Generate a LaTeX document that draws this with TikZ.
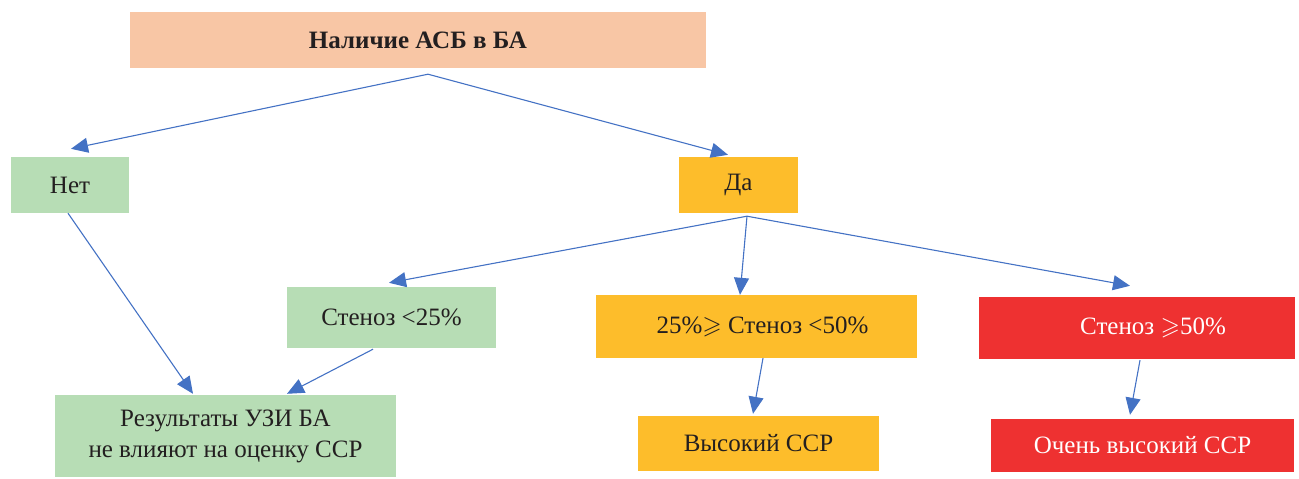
\documentclass[tikz,border=0pt]{standalone}
\usepackage{amssymb}
\usepackage{fontspec}
\setmainfont{Liberation Serif}
\usetikzlibrary{arrows.meta,calc}
\definecolor{cpeach}{HTML}{F8C6A5}
\definecolor{cgreen}{HTML}{B7DDB5}
\definecolor{cyellow}{HTML}{FDBD2B}
\definecolor{cred}{HTML}{EE3131}
\definecolor{cblue}{HTML}{4472C4}
\definecolor{ctext}{HTML}{231F20}
\begin{document}
\begin{tikzpicture}[x=1pt,y=-1pt,
  box/.style={rectangle,inner sep=0pt,text=ctext,font=\fontsize{25}{31}\selectfont,align=center},
  conn/.style={draw=cblue,line width=1.1pt,-{Triangle[length=17pt,width=15pt]}}]
\useasboundingbox (0,0) rectangle (1299,479);
\node[box,fill=cpeach,minimum width=576pt,minimum height=56pt,font=\fontsize{25}{31}\selectfont\bfseries] (top) at (418,40) {Наличие АСБ в БА};
\node[box,fill=cgreen,minimum width=118pt,minimum height=56pt] (net) at (70,185) {Нет};
\node[box,fill=cyellow,minimum width=119pt,minimum height=56pt] (da) at (738.5,185) {Да};
\node[box,fill=cgreen,minimum width=209pt,minimum height=61pt] (s25) at (391.5,317.5) {Стеноз <25\%};
\node[box,fill=cyellow,minimum width=321pt,minimum height=63pt] (s2550) at (756.5,326.5) {\hspace*{12pt}25\%$\geqslant$ Стеноз <50\%};
\node[box,fill=cred,minimum width=316pt,minimum height=62pt,text=white] (s50) at (1137,328) {\hspace*{32pt}Стеноз $\geqslant$50\%};
\node[box,fill=cgreen,minimum width=341pt,minimum height=82pt] (res) at (225.5,436) {Результаты УЗИ БА\\не влияют на оценку ССР};
\node[box,fill=cyellow,minimum width=241pt,minimum height=55pt] (high) at (758.5,443.5) {Высокий ССР};
\node[box,fill=cred,minimum width=303pt,minimum height=53pt,text=white] (vhigh) at (1142.5,445.5) {Очень высокий ССР};
% connectors
\draw[conn] ($(top.south)+(10,6)$) -- ($(net.north)+(1,-8)$);
\draw[conn] ($(top.south)+(10,6)$) -- ($(da.north)+(-10.5,-2)$);
\draw[conn] ($(da.south)+(8.5,3)$) -- ($(s25.north)+(-2.5,-4)$);
\draw[conn] ($(da.south)+(8.5,3)$) -- ($(s2550.north)+(-16.5,0)$);
\draw[conn] ($(da.south)+(8.5,3)$) -- ($(s50.north)+(-7,-11)$);
\draw[conn] ($(net.south)+(-2,0)$) -- ($(res.north)+(-32.5,-1)$);
\draw[conn] ($(s25.south)+(-18.5,1)$) -- ($(res.north)+(61.5,-1)$);
\draw[conn] ($(s2550.south)+(6.5,0)$) -- ($(high.north)+(-5.5,-2)$);
\draw[conn] ($(s50.south)+(3,1)$) -- ($(vhigh.north)+(-12.5,-4)$);
\end{tikzpicture}
\end{document}
